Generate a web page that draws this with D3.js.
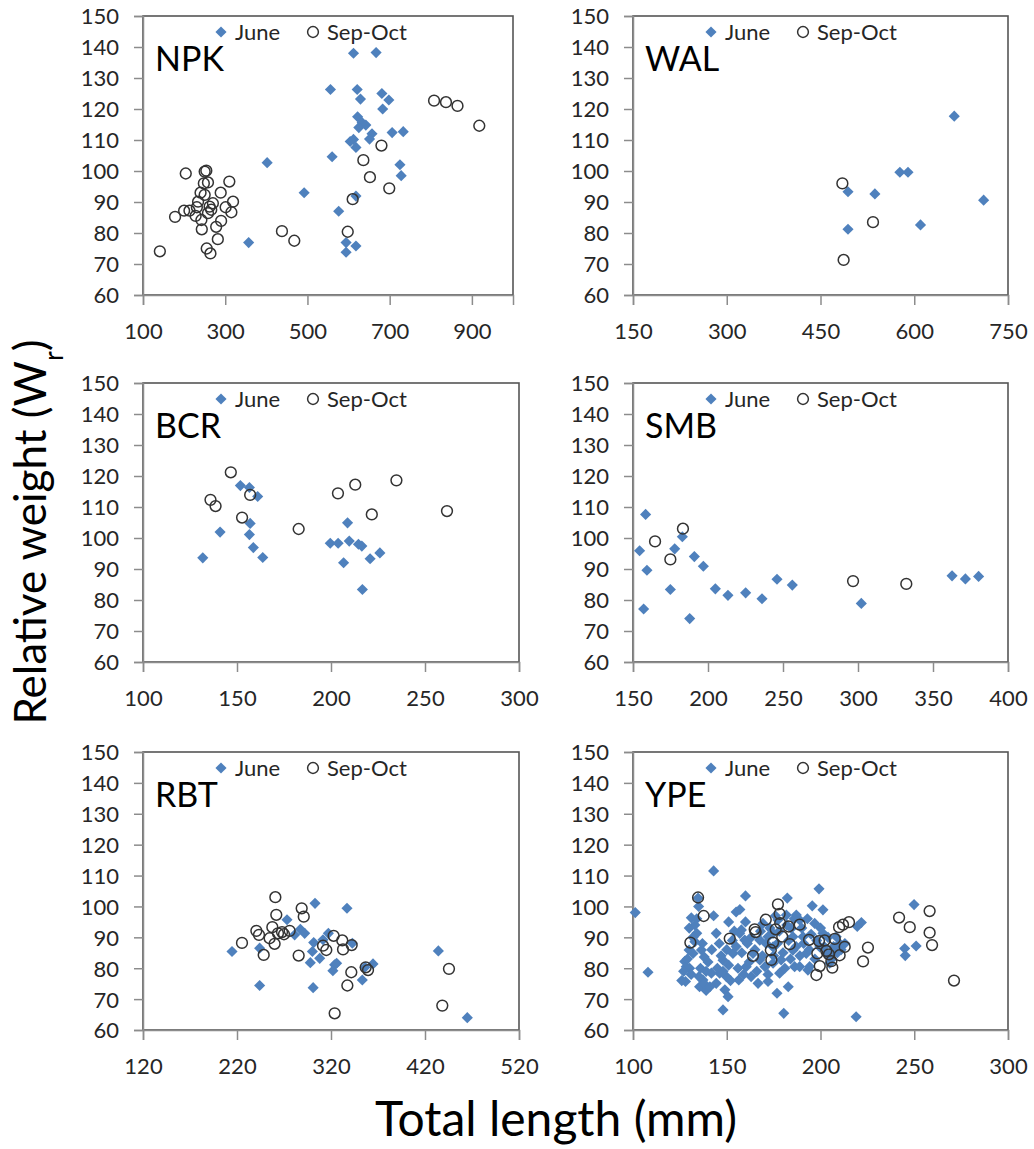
<!DOCTYPE html>
<html>
<head>
<meta charset="utf-8">
<script src="https://cdn.jsdelivr.net/npm/d3@7"></script>
<style>
  body { margin: 0; background: #fff; }
  svg { display: block; font-family: Lato, "Open Sans", sans-serif; }
</style>
</head>
<body>
<div id="chart"></div>
<script>
// total length (mm), relative weight (Wr) pairs
var npkJune = [[612,138],[667,138.2],[556,126.3],[621,126.3],[629,123.2],[681,125],[698,122.9],[683,120],
  [622,117.5],[633,115.6],[642,114.8],[625,114],[657,112],[651,110.3],[706,112.4],[733,112.7],[604,109.5],
  [612,110.2],[618,107.6],[560,104.6],[402,102.7],[725,102],[728,98.5],[492,93],[618,91.9],[576,87],
  [357,76.9],[594,76.9],[594,73.8],[618,75.8]];
var npkSep = [[808,122.7],[837,122.2],[865,121],[918,114.6],[680,108.2],[636,103.5],[652,98],[699,94.4],
  [610,90.9],[598,80.4],[438,80.6],[468,77.5],[141,74.1],[178,85.2],[204,99.2],[200,87.2],[213,87.2],
  [231,88.3],[250,99.8],[254,100.1],[248,96],[258,96.3],[240,93],[250,92.3],[234,90.1],[228,85.5],
  [242,84.2],[243,81.2],[258,86.4],[266,87.5],[270,89.6],[289,93],[310,96.6],[319,90.1],[315,86.7],
  [301,88.3],[290,83.9],[278,82],[282,78],[255,75],[264,73.4],[262,88.5]];

var walJune = [[664,117.7],[577,99.6],[590,99.6],[494,93.3],[537,92.6],[711,90.6],[610,82.6],[494,81.2]];
var walSep = [[485,96],[534,83.5],[487,71.3]];

var bcrJune = [[131.8,93.6],[141,101.9],[151.8,116.9],[156.6,116.3],[161,113.4],[157,104.7],[156.6,101.1],
  [158.7,96.9],[163.7,93.7],[199.6,98.3],[203.8,98.3],[208.8,104.9],[209.7,99],[206.7,92],[214.6,98],
  [216.4,97.4],[220.8,93.3],[226,95.2],[216.7,83.4]];
var bcrSep = [[146.7,121.2],[135.9,112.3],[138.6,110.3],[152.7,106.6],[157,113.9],[182.8,102.9],
  [203.7,114.4],[212.9,117.2],[221.7,107.6],[234.8,118.6],[261.7,108.7]];

var smbJune = [[154.4,95.9],[158.4,107.6],[159.3,89.6],[157.1,77.1],[174.9,83.4],[177.8,96.5],[182.9,100.4],
  [187.8,74],[190.9,94],[196.9,90.9],[204.9,83.6],[213.3,81.5],[225.1,82.3],[236,80.4],[246,86.7],
  [256.2,84.8],[302.2,78.9],[362.7,87.8],[371.6,86.8],[380.4,87.6]];
var smbSep = [[164.7,98.9],[174.9,93.1],[183.3,103],[296.7,86.1],[332.2,85.2]];

var rbtJune = [[214.7,85.4],[244.1,86.5],[244.1,74.4],[273.2,95.7],[281.3,90.8],[287.4,92.6],[292,91.3],
  [303,101],[301.6,88.3],[300.2,85.4],[298,81.8],[308,83.2],[311.5,89.2],[317.2,91.3],[323.9,81.1],
  [322,79.2],[326,81.6],[301,73.7],[337,99.4],[342.7,88.1],[353.3,76.2],[356.2,80.3],[364.7,81.4],
  [434.2,85.6],[465,64]];
var rbtSep = [[225.3,88.2],[240.6,92.1],[243.4,90.8],[248.4,84.3],[254.7,89.7],[257.6,93.3],[260.8,103],
  [261.8,97.3],[260,87.9],[263.6,91.3],[267.9,91.7],[270,91],[276,92.1],[288.8,99.4],[291,96.7],
  [285.6,84.1],[311.5,87.3],[315,85.9],[322.8,90.5],[332,89],[332.8,86.1],[342,87.5],[341.6,78.7],
  [337.4,74.4],[356.9,80.3],[359.4,79.4],[323.9,65.4],[438.4,67.9],[445.5,79.8]];

var ypeJune = [[101.2,98],[108,78.7],[143,111.5],[160,103.4],[155,98.2],[148,66.5],[180.4,65.4],[182.8,74],
  [176.8,71.9],[172,75.7],[182.3,102.7],[199.2,105.7],[195.6,100.2],[201.3,98.9],[219,64.3],[221.8,94.8],
  [219.6,93.5],[249.9,100.6],[244.9,86.4],[245.2,84.1],[251,87.2],[127.6,82.2],[128,75.7],[131.1,96.3],
  [134.7,102.7],[134,91.3],[133,88.6],[130.2,80],[135.5,74],[139,72.8],[138,83.6],[144.4,91.3],[148,82.6],
  [149.8,77.3],[149,73],[150.7,70.8],[153.3,84.8],[156.9,91.3],[157.8,92.4],[159.6,89.1],[156.4,76.2],
  [160.4,80.5],[163,77.3],[166.7,75.1],[167.6,89.1],[169.3,94.5],[174.7,86.9],[177.3,95.6],[178.2,78.4],
  [179,82.7],[181.8,97.2],[184.4,92.9],[185.3,85.8],[186.2,80.5],[188.9,95.6],[190.7,90.2],[192.4,84.8],
  [194.2,80.5],[196.9,94.5],[199.6,86.9],[201.3,91.3],[203.1,84.8],[204.9,81.6],[206.7,85.8],[208.4,90.2],
  [210.2,88],[188.9,80.5],[193.3,79.4],[146.2,78.4],[144.4,75.1],[141.8,78.4],[137.3,76.2],[135.2,77.3],
  [132,84.8],[128.4,80.5],[129.9,85.9],[136.5,85.9],[167.6,82.7],[164,84.8],[170.4,80.5],[174.7,81.6],
  [174.7,91.3],[172,90.2],[185.3,90.2],[187.1,97.2],
  [126,76],[127,79],[129,83],[131,78],[132,90],[133,94],[134,96],[136,80],[137,88],[138,75],[139,79],
  [140,82],[141,74],[142,86],[145,80],[146,88],[147,84],[148,79],[150,86],[151,81],[152,76],[153,89],
  [154,92],[155,87],[156,80],[158,85],[159,78],[161,88],[162,82],[163,90],[165,86],[166,79],[168,92],
  [169,84],[171,88],[172,78],[173,93],[175,84],[176,97],[177,88],[178,92],[180,85],[181,80],[182,94],
  [183,89],[184,83],[186,96],[187,87],[189,84],[190,93],[191,88],[193,96],[194,86],[195,91],[197,83],
  [198,89],[200,93],[202,87],[204,90],[206,83],[207,87],[209,85],[211,86],[213,88],[160,95],[151,95],
  [143,97],[130,93],[135,100],[157,99]];
var ypeSep = [[134.7,102.9],[130.6,88.3],[137.7,96.9],[151.6,89.6],[164,84],[164.9,92.6],[165.4,91.7],
  [170.8,95.7],[173.5,85.9],[173.8,82.7],[174.7,88.3],[176.1,92.6],[177.3,100.7],[178.2,97.6],[178.5,94.6],
  [179.6,90.2],[183.6,87.8],[183,93.5],[188.9,94.1],[193.9,89.2],[198.3,84.8],[199.2,88.8],[197.8,77.8],
  [199.6,80.7],[202.2,89],[203.1,85.6],[204.5,84.5],[205.8,82.3],[206.3,80.2],[207.6,89.5],[209.9,93.3],
  [212,94.1],[215.2,94.9],[212.9,86.9],[210.2,84.2],[222.7,82.2],[225.3,86.7],[241.9,96.4],[247.6,93.3],
  [258.2,98.5],[258.2,91.5],[259.5,87.5],[271.2,76]];

var species = ["NPK", "WAL", "BCR", "SMB", "RBT", "YPE"];
var juneSets = [npkJune, walJune, bcrJune, smbJune, rbtJune, ypeJune];
var sepSets = [npkSep, walSep, bcrSep, smbSep, rbtSep, ypeSep];
var xDomains = [[100,1000],[150,750],[100,300],[150,400],[120,520],[100,300]];
var xTickSets = [[100,300,500,700,900],[150,300,450,600,750],[100,150,200,250,300],
  [150,200,250,300,350,400],[120,220,320,420,520],[100,150,200,250,300]];
var yTicks = [60,70,80,90,100,110,120,130,140,150];
var legendLabels = ["June", "Sep-Oct"];

// layout
var colLeft = [143, 633];
var colRight = [[513, 1008], [519, 1008], [519, 1008]];
var rowTop = [16, 383, 752];
var rowBottom = [295, 662, 1030];

var blue = "#4f81bd";
var axisGray = "#8c8c8c";
var textCol = "#262626";

var svg = d3.select("#chart").append("svg")
    .attr("width", 1034)
    .attr("height", 1149);

var diamond = d3.symbol().type(d3.symbolSquare).size(62);

species.forEach(function(name, i) {
  var col = i % 2, row = Math.floor(i / 2);
  var x0 = colLeft[col], x1 = colRight[row][col];
  var y0 = rowTop[row], y1 = rowBottom[row];

  var x = d3.scaleLinear().domain(xDomains[i]).range([x0, x1]);
  var y = d3.scaleLinear().domain([60, 150]).range([y1, y0]);

  var g = svg.append("g").attr("class", "panel-" + name);

  // plot box
  g.append("rect")
    .attr("x", x0).attr("y", y0)
    .attr("width", x1 - x0).attr("height", y1 - y0)
    .attr("fill", "none")
    .attr("stroke", "#555")
    .attr("stroke-width", 1.6);

  var yAxis = g.append("g")
    .attr("transform", "translate(" + x0 + ",0)")
    .call(d3.axisLeft(y).tickValues(yTicks).tickSize(9).tickPadding(15));

  var xAxis = g.append("g")
    .attr("transform", "translate(0," + y1 + ")")
    .call(d3.axisBottom(x).tickValues(xTickSets[i]).tickSize(10).tickPadding(18));

  [yAxis, xAxis].forEach(function(ax) {
    ax.select(".domain").attr("stroke", axisGray).attr("stroke-width", 1.5);
    ax.selectAll(".tick line").attr("stroke", axisGray).attr("stroke-width", 1.5);
    ax.selectAll(".tick text")
      .attr("fill", textCol)
      .style("font-size", "22px")
      .style("font-family", "Lato, sans-serif");
  });
  yAxis.selectAll(".tick text").attr("dy", "0.36em");

  // June diamonds
  g.selectAll(".june")
    .data(juneSets[i]).enter()
    .append("path")
      .attr("class", "june")
      .attr("d", diamond)
      .attr("transform", d => "translate(" + x(d[0]) + "," + y(d[1]) + ") rotate(45)")
      .attr("fill", blue);

  // Sep-Oct open circles
  g.selectAll(".sep")
    .data(sepSets[i]).enter()
    .append("circle")
      .attr("class", "sep")
      .attr("cx", d => x(d[0]))
      .attr("cy", d => y(d[1]))
      .attr("r", 5.4)
      .attr("fill", "none")
      .attr("stroke", "#333")
      .attr("stroke-width", 1.5);

  // legend
  var ly = y0 + 16;
  g.append("path")
    .attr("d", diamond)
    .attr("transform", "translate(" + (x0 + 78) + "," + ly + ") rotate(45)")
    .attr("fill", blue);
  g.append("text")
    .attr("x", x0 + 92).attr("y", ly + 8)
    .attr("fill", textCol)
    .style("font-size", "22px")
    .text(legendLabels[0]);
  g.append("circle")
    .attr("cx", x0 + 170).attr("cy", ly)
    .attr("r", 5.4)
    .attr("fill", "none")
    .attr("stroke", "#333")
    .attr("stroke-width", 1.5);
  g.append("text")
    .attr("x", x0 + 184).attr("y", ly + 8)
    .attr("fill", textCol)
    .style("font-size", "22px")
    .text(legendLabels[1]);

  // species code
  g.append("text")
    .attr("x", x0 + 12).attr("y", y0 + 55)
    .attr("fill", "#000")
    .style("font-size", "34px")
    .text(name);
});

// axis titles
var yTitle = svg.append("text")
  .attr("transform", "translate(46,532) rotate(-90)")
  .attr("text-anchor", "middle")
  .attr("fill", "#000")
  .style("font-size", "44px");
yTitle.append("tspan").text("Relative weight (W");
yTitle.append("tspan").attr("baseline-shift", "sub").style("font-size", "27px").text("r");
yTitle.append("tspan").text(")");

svg.append("text")
  .attr("x", 556).attr("y", 1136)
  .attr("text-anchor", "middle")
  .attr("fill", "#000")
  .style("font-size", "48px")
  .text("Total length (mm)");
</script>
</body>
</html>
